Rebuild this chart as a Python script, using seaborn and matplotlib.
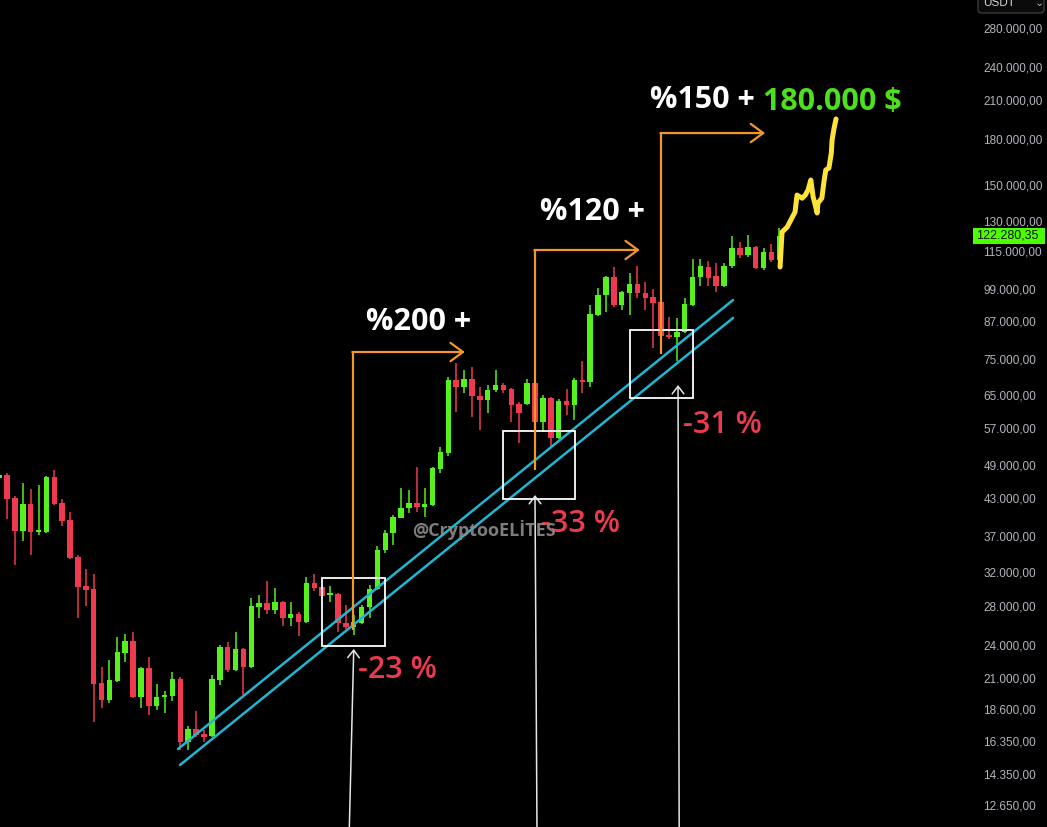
import matplotlib
matplotlib.use("Agg")
import numpy as np
import pandas as pd
import seaborn as sns
import matplotlib.pyplot as plt
from matplotlib.patches import Rectangle, FancyBboxPatch
from matplotlib.ticker import NullLocator, NullFormatter, FixedLocator
import matplotlib.transforms as mtransforms

# ---------------- data (weekly candles, USDT) ----------------
candle_idx = list(range(-1, 99))
opens = [46590, 47170, 43020, 37750, 42030, 37590, 37590, 46780, 42200, 39440,
         34020, 30310, 29930, 20600, 19250, 20770, 23210, 24350, 19470, 21860,
         18790, 19470, 19550, 20920, 16290, 17140, 16810, 16670, 20850, 23770,
         21700, 23590, 21950, 27870, 28330, 27550, 28450, 26670, 27110, 26270,
         30680, 30180, 29240, 29360, 26160, 25740, 26160, 27870, 29930, 35000,
         37440, 39730, 41340, 42200, 41510, 41850, 48290, 51500, 68890, 66960,
         69160, 64610, 63610, 66200, 67510, 66460, 62590, 62590, 68060, 58270,
         64080, 54640, 63360, 62340, 68890, 68330, 89220, 96620, 103780, 92850,
         97410, 100960, 97410, 95820, 93980, 82380, 81720, 83400, 92850, 103780,
         108050, 104210, 100160, 108470, 116550, 113400, 117000, 107620, 114700, 111110]
highs = [47360, 47550, 43380, 45700, 44590, 45330, 46970, 48130, 42840, 40710,
         34300, 32420, 31800, 21950, 22580, 24730, 25040, 25240, 21950, 22840,
         20520, 19950, 21520, 21090, 17350, 18430, 17080, 21260, 23960, 24250,
         25240, 23670, 28890, 29240, 30930, 30060, 28560, 28450, 27330, 31410,
         31800, 30300, 30310, 29480, 28100, 27000, 28100, 30430, 35560, 37900,
         40210, 44770, 44440, 48680, 44770, 48680, 52720, 69720, 73700, 71690,
         72550, 66960, 67500, 71690, 68060, 66700, 63100, 69160, 68330, 64870,
         64330, 63860, 66460, 69440, 74300, 92850, 99380, 104210, 108050, 98200,
         105500, 108470, 101790, 98990, 94400, 88540, 88190, 95440, 111560, 111560,
         110670, 109780, 109780, 122300, 119370, 122800, 117400, 116550, 118400, 126240]
lows = [46250, 39560, 32960, 36270, 34300, 37140, 37440, 41850, 38490, 33740,
        26670, 27990, 17640, 18640, 19020, 20680, 22400, 19400, 18640, 18130,
        18500, 18280, 19180, 15780, 15780, 16610, 16290, 16610, 20430, 21520,
        21610, 19630, 21860, 26670, 27110, 27110, 25840, 25840, 24830, 26200,
        29720, 29010, 28450, 25240, 25530, 24940, 26100, 26670, 29840, 34580,
        35690, 39730, 40550, 40710, 39890, 41700, 47550, 50900, 60640, 65400,
        59460, 56440, 60400, 65670, 65400, 58270, 53590, 62340, 52720, 56000,
        52720, 54420, 59930, 58740, 65400, 66960, 88860, 90320, 92100, 91040,
        89220, 95440, 91040, 78250, 76400, 81100, 74300, 83070, 92500, 100160,
        100160, 97800, 99780, 107620, 112000, 112450, 107200, 106770, 110230, 107620]
closes = [47170, 42840, 37750, 42030, 37590, 37750, 46780, 42030, 39280, 33880,
          30180, 29840, 20520, 19250, 20850, 23310, 24350, 19470, 21860, 18790,
          19470, 19630, 20920, 16290, 17140, 16740, 16610, 20920, 23770, 21700,
          23590, 21950, 27990, 28330, 27550, 28450, 26670, 27110, 26270, 30680,
          30060, 29120, 29360, 26160, 25740, 26270, 27870, 29930, 35000, 37440,
          39890, 41340, 42200, 41510, 42030, 48480, 51700, 68890, 66960, 69160,
          64610, 63610, 66200, 67510, 66200, 62340, 60400, 68060, 58270, 64080,
          54640, 63360, 62340, 68890, 68330, 89590, 96620, 103780, 92850, 97800,
          100960, 97410, 95440, 93610, 82050, 81720, 83400, 93230, 103780, 108470,
          103370, 100160, 108470, 116550, 113400, 117000, 107620, 114700, 111110, 122280]

# projected path (yellow)
proj_idx = [98.1, 98.35, 99.0, 99.6, 100.0, 100.25, 100.9, 101.3, 101.65, 102.0,
            102.3, 102.5, 102.8, 102.9, 103.4, 103.7, 103.9, 104.3, 104.6, 104.7,
            104.95, 105.2]
proj_price = [108050, 124210, 126660, 131350, 134520, 143900, 142140, 143900, 146840, 152810,
              142710, 139410, 133980, 139410, 142140, 152810, 159020, 160290, 170140, 179210,
              187880, 194870]

# support channel
chan_upper_idx = [21.7, 92.13]
chan_upper_price = [15838, 94742]
chan_lower_idx = [21.95, 92.13]
chan_lower_price = [14856, 88190]

tick_values = [12650, 14350, 16350, 18600, 21000, 24000, 28000, 32000, 37000, 43000,
               49000, 57000, 65000, 75000, 87000, 99000, 115000, 130000, 150000,
               180000, 210000, 240000, 280000]
last_price = 122280.35

# ---------------- style ----------------
sns.set_theme(style="dark", rc={"axes.facecolor": "black", "figure.facecolor": "black",
                                "axes.grid": False})
plt.rcParams["font.family"] = ["DejaVu Sans"]

GREEN = "#55F01E"
RED = "#EE3A4E"
ORANGE = "#F59628"
CYAN = "#1FB6D2"
YELLOW = "#FFE23A"

fig = plt.figure(figsize=(10.47, 8.27), dpi=100)
ax = fig.add_axes([0, 0, 970 / 1047, 1])
ax.set_facecolor("black")
ax.set_yscale("log")

df = pd.DataFrame({"i": candle_idx, "o": opens, "h": highs, "l": lows, "c": closes})
df["up"] = df["c"] >= df["o"]
cols = np.where(df["up"], GREEN, RED)
bot = np.minimum(df["o"], df["c"]).astype(float)
top = np.maximum(df["o"], df["c"]).astype(float)
top = np.maximum(top, bot * 1.007)

ax.vlines(df["i"], df["l"], df["h"], colors=cols, lw=1.1, zorder=2)
ax.bar(df["i"], top - bot, bottom=bot, width=0.7, color=cols, linewidth=0, zorder=3)

# channel + projection via seaborn
sns.lineplot(x=chan_upper_idx, y=chan_upper_price, ax=ax, color=CYAN, lw=1.8, zorder=4)
sns.lineplot(x=chan_lower_idx, y=chan_lower_price, ax=ax, color=CYAN, lw=1.8, zorder=4)
sns.lineplot(x=proj_idx, y=proj_price, ax=ax, color=YELLOW, lw=3.6, sort=False,
             estimator=None, zorder=4)

# white boxes
for (x0, y0, w, y1) in [(40.0, 23870, 8.0, 31300), (62.94, 42844, 9.14, 56220),
                        (79.06, 64077, 8.0, 84069)]:
    ax.add_patch(Rectangle((x0, y0), w, y1 - y0, fill=False, ec="white", lw=1.3, zorder=5))

# orange elbow arrows
for (xv, ylo, yhi, xend) in [(43.9, 25444, 77010, 58.1), (67.0, 48130, 115625, 80.3),
                             (83.0, 76400, 184250, 96.2)]:
    ax.plot([xv, xv], [ylo, yhi], color=ORANGE, lw=1.6, zorder=6, solid_capstyle="butt")
    ax.annotate("", xy=(xend, yhi), xytext=(xv - 0.08, yhi),
                arrowprops=dict(arrowstyle="->,head_length=0.75,head_width=0.55",
                                color=ORANGE, lw=1.6, shrinkA=0, shrinkB=0), zorder=6)

# white pointer arrows
for (xb, xt, yt) in [(43.4, 44.0, 23590), (67.26, 67.0, 43555), (85.3, 85.15, 67510)]:
    ax.annotate("", xy=(xt, yt), xytext=(xb, 11000),
                arrowprops=dict(arrowstyle="->,head_length=0.45,head_width=0.35",
                                color="#E6E6E6", lw=1.1, shrinkA=0, shrinkB=0), zorder=6)

# texts
big = dict(fontsize=22, fontweight="bold", family="Open Sans", va="center", ha="left", zorder=7)
ax.text(81.6, 210000, "%150 +", color="white", **big)
ax.text(95.9, 208500, "180.000 $", color="#4CE01E", **big)
ax.text(67.6, 134500, "%120 +", color="white", **big)
ax.text(45.6, 86786, "%200 +", color="white", **big)
red = dict(fontsize=22, fontweight="semibold", family="Open Sans", va="center", ha="left",
           color=RED, zorder=7)
ax.text(44.5, 21696, "-23 %", **red)
ax.text(67.8, 38806, "-33 %", **red)
ax.text(85.8, 57563, "-31 %", **red)
ax.text(51.4, 37897, "@CryptooELİTES", fontsize=13, fontweight="bold", family="Open Sans",
        color="#8C8C8C", alpha=0.9, va="center", ha="left", zorder=8)

# axes
ax.set_xlim(-0.888, 122.2)
ax.set_ylim(11605, 313048)
ax.set_xticks([])
ax.yaxis.tick_right()
ax.yaxis.set_major_locator(FixedLocator(tick_values))
ax.yaxis.set_minor_locator(NullLocator())
ax.yaxis.set_minor_formatter(NullFormatter())

def fmt(v):
    s = f"{v:,.2f}"
    return s.replace(",", "X").replace(".", ",").replace("X", ".")

ax.set_yticklabels([fmt(v) for v in tick_values])
ax.tick_params(axis="y", length=0, pad=9.5, labelcolor="#B2B5BE", labelsize=8.5)
for lab in ax.get_yticklabels():
    lab.set_family("Liberation Sans")
for sp in ax.spines.values():
    sp.set_visible(False)

# last price tag
blend = mtransforms.blended_transform_factory(fig.transFigure, ax.transData)
f = np.exp(8 / 251)
fig.add_artist(Rectangle((973 / 1047, last_price / f), 72 / 1047, last_price * f - last_price / f,
                         transform=blend, fc="#4CFF00", ec="none", zorder=10))
fig.text(976 / 1047, last_price, fmt(last_price), transform=blend, color="#111111", fontsize=9,
         family="Liberation Sans", va="center", ha="left", zorder=11)

# currency selector (cut off at top)
fig.add_artist(FancyBboxPatch((978 / 1047, 1 - 13 / 827), 66 / 1047, 22 / 827,
                              boxstyle="round,pad=0,rounding_size=0.004",
                              transform=fig.transFigure, fc="#0B0B0B", ec="#3A3A3A", lw=1))
fig.text(983 / 1047, 1 - 3 / 827, "USDT", color="#D1D4DC", fontsize=8.5,
         family="Liberation Sans", va="center", ha="left")
fig.text(1039 / 1047, 1 - 3 / 827, "⌄", color="#B2B5BE", fontsize=8, va="center", ha="center")

fig.savefig("out.png", dpi=100, facecolor="black")
